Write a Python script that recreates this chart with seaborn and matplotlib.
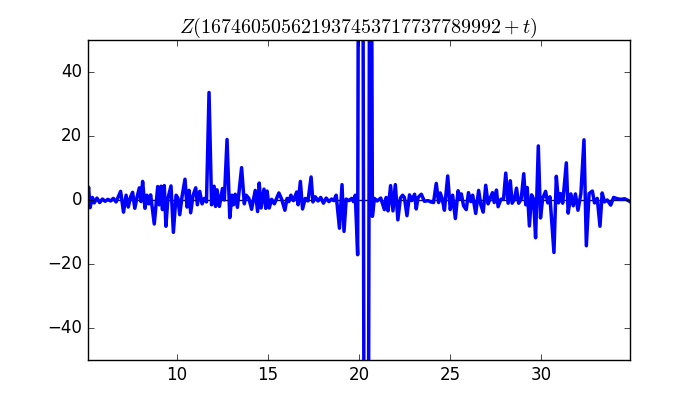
import matplotlib
matplotlib.use("Agg")
import matplotlib.pyplot as plt
import seaborn as sns
import pandas as pd

# values (local extrema of the curve)
t_vals = [5.08, 5.14, 5.22, 5.35, 5.45, 5.6, 5.75, 5.9, 6.05, 6.2, 6.35, 6.5, 6.65,
          6.9, 7.06, 7.2, 7.32, 7.45, 7.56, 7.68, 7.8, 7.93, 8.02, 8.11, 8.24, 8.35, 8.45,
          8.55, 8.75, 8.94, 9.03, 9.12, 9.2, 9.3, 9.39, 9.5, 9.67, 9.8, 9.95, 10.05, 10.15,
          10.28, 10.44, 10.55, 10.66, 10.75, 10.88, 11.03, 11.12, 11.25, 11.38, 11.5, 11.62,
          11.76, 11.9, 12.04, 12.12, 12.2, 12.33, 12.5, 12.6, 12.75, 12.9, 13.02, 13.1, 13.2,
          13.32, 13.55, 13.7, 13.8, 13.95, 14.1, 14.3, 14.43, 14.52, 14.62, 14.78, 14.88,
          14.95, 15.07, 15.2, 15.35, 15.6, 15.75, 15.93, 16.05, 16.15, 16.26, 16.4, 16.58,
          16.66, 16.78, 16.9, 17.05, 17.2, 17.37, 17.47, 17.6, 17.75, 17.9, 18.05, 18.2,
          18.35, 18.5, 18.62, 18.75, 18.93, 19.07, 19.18, 19.3, 19.45, 19.6, 19.7, 19.8,
          19.93, 20.1, 20.4, 20.63, 20.74, 20.85, 21.0, 21.2, 21.4, 21.5, 21.6, 21.74, 21.87,
          22.0, 22.14, 22.28, 22.4, 22.5, 22.64, 22.78, 22.9, 23.06, 23.15, 23.25, 23.43,
          23.6, 23.8, 23.95, 24.1, 24.25, 24.38, 24.47, 24.58, 24.7, 24.88, 25.02, 25.15,
          25.3, 25.45, 25.55, 25.63, 25.75, 25.9, 26.02, 26.15, 26.25, 26.42, 26.58, 26.7,
          26.83, 26.97, 27.1, 27.2, 27.34, 27.44, 27.56, 27.65, 27.8, 27.95, 28.07, 28.2,
          28.32, 28.42, 28.55, 28.66, 28.78, 28.92, 29.06, 29.17, 29.25, 29.37, 29.49, 29.6,
          29.71, 29.86, 29.98, 30.1, 30.26, 30.38, 30.5, 30.72, 30.85, 30.97, 31.08, 31.2,
          31.4, 31.5, 31.65, 31.78, 31.9, 32.04, 32.2, 32.37, 32.5, 32.65, 32.83, 32.95,
          33.1, 33.25, 33.37, 33.5, 33.65, 33.84, 34.0, 34.2, 34.4, 34.6, 34.75, 34.9]
z_vals = [1.5, 4.0, -2.4, 0.8, -0.9, 0.6, -0.8, 0.3, -0.4, 0.2, -0.3, 0.5, -0.6,
          2.7, -3.8, 1.5, -2.2, 1.0, 2.4, -2.6, 0.8, 3.8, -0.5, 5.8, -2.6, 1.5, -1.2,
          1.6, -7.5, 4.2, -1.5, 4.3, -3.0, 4.5, -8.2, 0.5, 4.4, -10.1, 1.5, 0.6, -4.6,
          1.2, 6.5, -2.2, 3.0, -4.0, 1.4, 3.8, -1.5, 2.7, -1.2, 0.5, -0.6,
          33.6, -1.5, 4.3, -2.0, 3.2, -2.0, 3.6, 0.0, 18.9, -5.5, 1.5, -1.5, 1.8,
          -2.3, 10.1, -1.2, 1.5, 0.5, -2.9, 3.0, -3.6, 5.3, -2.5, 3.4, -2.6,
          2.8, -2.5, 0.2, -1.2, 2.2, 0.3, -3.2, 0.5, -0.5, 1.5, -0.2, 2.5,
          -1.5, 5.8, -2.8, 0.5, -0.3, 7.2, -0.6, 1.0, -0.3, 0.8, -1.0, 0.6,
          -0.5, 0.3, -0.2, 1.5, -8.8, 4.8, -9.8, 0.3, -0.2, 0.5, -0.5, 1.5,
          -17.1, 400.0, -400.0, 200.0, -5.1, 0.5, -0.3, 0.6, -3.0, 0.8, -3.4, 4.5, -3.4,
          4.8, -6.2, 0.6, 1.5, 0.8, -4.9, 1.6, -0.2, 1.8, -2.8, 0.8, 1.8,
          -0.4, -0.2, -0.6, -0.8, 5.2, -0.8, 2.2, 0.3, -3.2, 7.5, -3.0, 1.5,
          -5.8, 2.9, 0.5, 1.9, -1.8, -3.0, 2.3, -0.5, 1.5, -4.2, 3.0, -1.5,
          -3.8, 4.6, -1.2, 0.3, 2.3, -0.8, 3.1, -2.1, 0.2, 0.4, 8.4, -1.0,
          6.0, -1.0, 0.2, 3.7, -1.0, 0.3, 8.2, -1.5, 3.9, -8.1, 1.6, 0.3,
          -11.8, 16.9, -5.6, 0.5, 2.7, -0.9, 1.0, -16.4, 7.4, -0.9, 2.0, -1.0,
          11.6, -4.1, 1.9, -1.8, 1.9, -3.2, 2.0, 18.8, -14.3, 2.0, 2.8, -0.9,
          0.5, -8.2, 2.2, -0.6, 0.0, -1.6, 0.8, 0.4, 0.2, 0.4, 0.0, -0.5]
x_ticks = [10, 15, 20, 25, 30]
y_ticks = [-40, -20, 0, 20, 40]
title_text = r"$Z(167460505621937453717737789992+t)$"

sns.set_style("white")
plt.style.use("classic")
plt.rcParams["font.family"] = ["DejaVu Sans"]
plt.rcParams["mathtext.fontset"] = "cm"

df = pd.DataFrame({"t": t_vals, "z": z_vals})

fig = plt.figure(figsize=(7, 4), dpi=100, facecolor="white")
fig.subplots_adjust(left=0.125, right=0.9, bottom=0.1, top=0.9)
ax = fig.add_subplot(111)
ax.axhline(0, color="black", linewidth=1.0, zorder=1)
sns.lineplot(data=df, x="t", y="z", ax=ax, color="blue", linewidth=2.5, sort=True, zorder=2)
ax.set_xlim(t_vals[0], t_vals[-1])
ax.set_ylim(-50, 50)
ax.set_xticks(x_ticks)
ax.set_yticks(y_ticks)
ax.set_xlabel("")
ax.set_ylabel("")
ax.set_title(title_text, fontsize=14.4)
ax.tick_params(direction="in", top=True, right=True, labelsize=12, length=4)
fig.savefig("out.png", dpi=100, facecolor="white")
